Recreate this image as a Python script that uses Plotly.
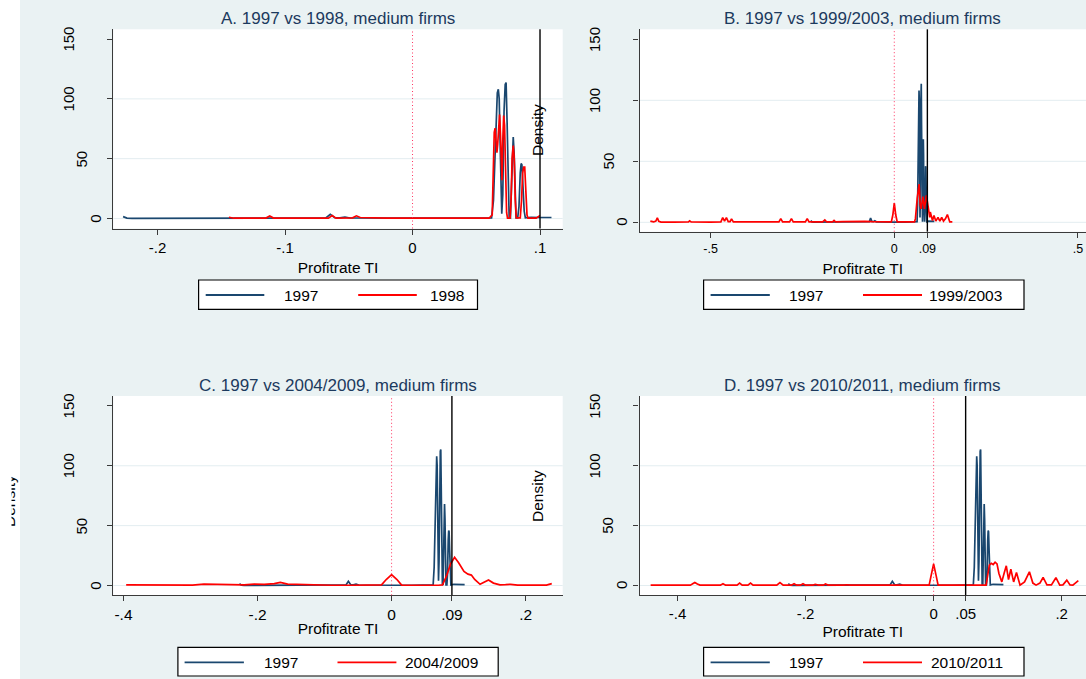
import plotly.graph_objects as go

W, H = 1086, 679

# ---------------- data ----------------
# Kernel density, 1997 (same in every panel)
x1997 = [-0.227, -0.224, -0.220, -0.200, -0.170, -0.140, -0.132, -0.130, -0.128, -0.100, -0.080,
         -0.068, -0.0645, -0.061, -0.057, -0.053, -0.049, -0.040, -0.020, 0.000, 0.030, 0.058,
         0.0620, 0.0635, 0.0645, 0.0655, 0.0665, 0.0673, 0.0680, 0.0690, 0.0700, 0.0708, 0.0718,
         0.0727, 0.0734, 0.0742, 0.0750, 0.0758, 0.0768, 0.0775, 0.0783, 0.0790, 0.0797, 0.0805,
         0.0812, 0.0825, 0.0835, 0.0845, 0.0852, 0.0858, 0.0866, 0.0876, 0.0885, 0.0930, 0.1000,
         0.1090]
y1997 = [1.5, 0.3, 0.1, 0.1, 0.1, 0.2, 0.3, 0.7, 0.2, 0.2, 0.3,
         0.5, 3.5, 0.6, 0.5, 1.2, 0.4, 0.3, 0.2, 0.2, 0.2, 0.2,
         0.5, 15, 45, 85, 105, 108, 100, 50, 4, 20, 90,
         112, 113.6, 80, 20, 1, 0.5, 20, 55, 68, 55, 15,
         0.5, 0.5, 10, 38, 46, 45, 30, 6, 0.5, 1.0, 0.8,
         0.8]

# 1998
x1998 = [-0.144, -0.140, -0.130, -0.115, -0.112, -0.109, -0.080, -0.066, -0.063, -0.060, -0.047,
         -0.044, -0.041, -0.035, -0.030, -0.020, 0.000, 0.060, 0.0625, 0.0634, 0.0641, 0.0648,
         0.0655, 0.0662, 0.0668, 0.0676, 0.0683, 0.0690, 0.0697, 0.0702, 0.0708, 0.0715, 0.0722,
         0.0730, 0.0738, 0.0745, 0.0765, 0.0773, 0.0781, 0.0790, 0.0798, 0.0806, 0.0814, 0.0845,
         0.0855, 0.0864, 0.0872, 0.0880, 0.0888, 0.0898, 0.0905, 0.0970, 0.0995, 0.1000]
y1998 = [1.0, 0.2, 0.2, 0.3, 2.0, 0.3, 0.2, 0.3, 2.5, 0.3, 0.5,
         2.2, 0.8, 0.5, 0.8, 0.3, 0.2, 0.2, 3, 40, 72, 75.6,
         68, 55, 62, 82, 87, 70, 35, 32, 65, 86, 78,
         40, 5, 0.3, 0.3, 15, 50, 61, 50, 15, 0.5, 0.5,
         15, 38, 43, 43, 25, 3, 0.3, 0.3, 2.2, 2.0]

# 1999/2003
x9903 = [-0.664, -0.655, -0.649, -0.645, -0.641, -0.635, -0.600, -0.560, -0.557, -0.553, -0.500,
         -0.472, -0.467, -0.462, -0.457, -0.452, -0.447, -0.443, -0.438, -0.400, -0.393, -0.385,
         -0.330, -0.314, -0.309, -0.304, -0.285, -0.280, -0.275, -0.242, -0.237, -0.232, -0.195,
         -0.189, -0.184, -0.168, -0.164, -0.160, -0.140, -0.120, -0.100, -0.080, -0.060, -0.030,
         -0.008, -0.004, 0.000, 0.004, 0.008, 0.055, 0.0575, 0.0625, 0.0675, 0.0705, 0.0730,
         0.0780, 0.0820, 0.0875, 0.0910, 0.0940, 0.0965, 0.0980, 0.1010, 0.1040, 0.1080, 0.1130,
         0.1190, 0.1240, 0.1290, 0.1340, 0.1395, 0.1445, 0.1510, 0.1580]
y9903 = [1.0, 0.3, 1.0, 3.6, 0.8, 0.2, 0.2, 0.3, 1.2, 0.3, 0.2,
         0.3, 3.8, 1.0, 3.8, 0.5, 0.5, 2.8, 0.3, 0.3, 0.6, 0.2,
         0.2, 0.3, 3.0, 0.3, 0.3, 3.0, 0.3, 0.3, 3.0, 0.3, 0.3,
         2.0, 0.3, 0.3, 1.5, 0.3, 0.5, 0.8, 0.5, 0.8, 0.5, 0.3,
         0.3, 6, 15.8, 6, 0.3, 0.3, 3, 20, 31.4, 14, 11,
         21, 11, 22, 15, 11, 4, 8.4, 5, 1.4, 5.6, 1.0,
         4.0, 1.0, 4.0, 1.0, 3.0, 6.4, 0.3, 0.3]

# 2004/2009
x0409 = [-0.396, -0.370, -0.340, -0.320, -0.297, -0.280, -0.260, -0.240, -0.220, -0.205, -0.190,
         -0.175, -0.166, -0.155, -0.140, -0.130, -0.120, -0.090, -0.060, -0.030, -0.015, -0.008,
         0.000, 0.008, 0.015, 0.070, 0.076, 0.082, 0.088, 0.094, 0.100, 0.108, 0.114,
         0.119, 0.124, 0.132, 0.138, 0.1446, 0.152, 0.1616, 0.170, 0.1776, 0.188, 0.199,
         0.215, 0.231, 0.239]
y0409 = [0.5, 0.3, 0.5, 0.2, 0.3, 1.2, 0.8, 1.0, 0.5, 1.2, 1.0,
         1.5, 2.5, 1.2, 1.0, 0.8, 0.3, 0.2, 0.2, 0.2, 0.5, 5,
         9, 5, 0.3, 0.2, 0.5, 8, 18, 23.6, 19, 11.7, 9.5,
         8.7, 5, 1.0, 3.0, 4.6, 2.0, 0.5, 0.7, 1.0, 0.3, 0.2,
         0.2, 0.3, 1.5]

# 2010/2011
x1011 = [-0.442, -0.380, -0.377, -0.373, -0.369, -0.365, -0.333, -0.329, -0.325, -0.307, -0.303,
         -0.299, -0.290, -0.286, -0.282, -0.245, -0.240, -0.235, -0.222, -0.218, -0.214, -0.208,
         -0.204, -0.200, -0.188, -0.185, -0.180, -0.172, -0.169, -0.165, -0.140, -0.136, -0.130,
         -0.100, -0.070, -0.030, -0.007, -0.004, 0.000, 0.004, 0.007, 0.082, 0.0845, 0.087,
         0.090, 0.093, 0.096, 0.099, 0.102, 0.1065, 0.110, 0.1135, 0.117, 0.1206, 0.125,
         0.1294, 0.135, 0.142, 0.1496, 0.155, 0.160, 0.166, 0.171, 0.177, 0.184, 0.191,
         0.197, 0.202, 0.208, 0.213, 0.2175, 0.222, 0.226]
y1011 = [0.3, 0.3, 1.2, 2.5, 1.2, 0.3, 0.3, 1.5, 0.3, 0.3, 2.0,
         0.3, 0.3, 2.0, 0.3, 0.3, 2.5, 0.3, 0.3, 1.5, 0.3, 0.3,
         1.5, 0.3, 0.3, 1.0, 0.3, 0.3, 1.2, 0.3, 0.3, 0.6, 0.3,
         0.3, 0.3, 0.3, 0.3, 8, 18, 8, 0.3, 0.3, 8, 17,
         18.5, 17.5, 19.5, 18, 10, 3, 10, 16.4, 5, 13.6, 3,
         10.8, 0.3, 3, 11.4, 2, 0.3, 2, 6.7, 0.5, 0.5, 6.5,
         0.3, 0.5, 4.5, 0.5, 0.3, 2, 4]

base_label = "1997"
comp_labels = ["1998", "1999/2003", "2004/2009", "2010/2011"]
comp_x = [x1998, x9903, x0409, x1011]
comp_y = [y1998, y9903, y0409, y1011]
panel_titles = ["A. 1997 vs 1998, medium firms", "B. 1997 vs 1999/2003, medium firms",
                "C. 1997 vs 2004/2009, medium firms", "D. 1997 vs 2010/2011, medium firms"]
ref_lines = [0.1, 0.09, 0.09, 0.05]
zero_line = 0
xtick_vals = [[-0.2, -0.1, 0, 0.1], [-0.5, 0, 0.09, 0.5],
              [-0.4, -0.2, 0, 0.09, 0.2], [-0.4, -0.2, 0, 0.05, 0.2]]
xtick_text = [["-.2", "-.1", "0", ".1"], ["-.5", "0", ".09", ".5"],
              ["-.4", "-.2", "0", ".09", ".2"], ["-.4", "-.2", "0", ".05", ".2"]]
ytick_vals = [0, 50, 100, 150]
ytick_text = ["0", "50", "100", "150"]
grid_vals = [0, 50, 100]
x_title = "Profitrate TI"
y_title = "Density"

# ---------------- styling / geometry (pixels) ----------------
NAVY = "#1A476F"
RED = "#FF0000"
BG = "#EAF2F3"
TITLE_C = "#1C3A5E"
FONT = "Liberation Sans, Arial, sans-serif"

panels = [
    dict(x0=113.3, x1=562.7, top=29.3, bottom=228.5, xr=[-0.2347, 0.1178], yr=[-8.4, 158.2],
         tf=15, ttl_y=18, xt_stand=7, legend=dict(box=(198.6, 477.5, 280, 309.3), l1=(205.7, 264.3),
         t1=282, l2=(358.2, 416.8), t2=428, yc=295)),
    dict(x0=639.5, x1=1086, top=29.3, bottom=231.7, xr=[-0.6935, 0.5218], yr=[-7.7, 158.2],
         tf=12.5, ttl_y=18, xt_stand=8, legend=dict(box=(703.6, 1024, 280, 309.3), l1=(710.6, 769.8),
         t1=787.2, l2=(863, 922), t2=926.5, yc=295)),
    dict(x0=113.3, x1=562.7, top=396, bottom=595.3, xr=[-0.4152, 0.2553], yr=[-8.2, 158.3],
         tf=15.5, ttl_y=385, xt_stand=1, legend=dict(box=(177.9, 498.2, 647.3, 676), l1=(184.6, 243.9),
         t1=261.8, l2=(337.5, 396.4), t2=402.9, yc=662.3)),
    dict(x0=639.5, x1=1086, top=396, bottom=595.3, xr=[-0.4594, 0.238], yr=[-8.2, 158.3],
         tf=15, ttl_y=385, xt_stand=4, legend=dict(box=(703.6, 1024, 647.3, 676), l1=(710.6, 769.8),
         t1=787.2, l2=(863, 922), t2=928.9, yc=662.3)),
]


def px(x):
    return x / W


def py(y):
    return 1 - y / H


fig = go.Figure()
shapes = []
annotations = []
layout = dict(
    width=W, height=H, margin=dict(l=0, r=0, t=0, b=0),
    paper_bgcolor=BG, plot_bgcolor="white", template="none",
    font=dict(family=FONT, color="black", size=15), showlegend=False,
)

# white strip outside the graph region (left)
shapes.append(dict(type="rect", xref="paper", yref="paper", x0=0, x1=px(20), y0=0, y1=1,
                   fillcolor="white", line=dict(width=0), layer="below"))

for i, p in enumerate(panels):
    n = i + 1
    xa = "x" if n == 1 else f"x{n}"
    ya = "y" if n == 1 else f"y{n}"
    xkey = "xaxis" if n == 1 else f"xaxis{n}"
    ykey = "yaxis" if n == 1 else f"yaxis{n}"

    fig.add_trace(go.Scatter(x=x1997, y=y1997, mode="lines", name=base_label,
                             line=dict(color=NAVY, width=1.7), xaxis=xa, yaxis=ya))
    fig.add_trace(go.Scatter(x=comp_x[i], y=comp_y[i], mode="lines", name=comp_labels[i],
                             line=dict(color=RED, width=1.7), xaxis=xa, yaxis=ya))

    layout[xkey] = dict(
        domain=[px(p["x0"]), px(p["x1"])], range=p["xr"], anchor=ya,
        tickmode="array", tickvals=xtick_vals[i], ticktext=xtick_text[i],
        ticks="outside", ticklen=5, tickwidth=1.2, tickcolor="#3a3a3a",
        showline=True, linecolor="#3a3a3a", linewidth=1.3, showgrid=False, zeroline=False,
        tickfont=dict(size=p["tf"], color="black", family=FONT),
        title=dict(text=x_title, font=dict(size=15.5, color="black", family=FONT), standoff=p["xt_stand"]),
    )
    layout[ykey] = dict(
        domain=[py(p["bottom"]), py(p["top"])], range=p["yr"], anchor=xa,
        tickmode="array", tickvals=ytick_vals, showticklabels=False,
        ticks="outside", ticklen=5, tickwidth=1.2, tickcolor="#3a3a3a",
        showline=True, linecolor="#3a3a3a", linewidth=1.3, showgrid=False, zeroline=False,
    )

    # horizontal grid lines
    for g in grid_vals:
        shapes.append(dict(type="line", xref=f"{xa} domain", yref=ya, x0=0, x1=1, y0=g, y1=g,
                           line=dict(color="#E3EDF0", width=1), layer="below"))
    # reference lines
    shapes.append(dict(type="line", xref=xa, yref=f"{ya} domain", x0=zero_line, x1=zero_line, y0=0, y1=1,
                       line=dict(color="rgba(255,30,80,0.9)", width=1, dash="1px,2.5px"), layer="above"))
    shapes.append(dict(type="line", xref=xa, yref=f"{ya} domain", x0=ref_lines[i], x1=ref_lines[i],
                       y0=0, y1=1, line=dict(color="black", width=1.4), layer="above"))

    # y tick labels (rotated, Stata-style alignment)
    for v, t in zip(ytick_vals, ytick_text):
        cx = p["x0"] - 18 - 13.4 * (len(t) - 1)
        annotations.append(dict(text=t, xref="paper", yref=ya, x=px(cx), y=v, showarrow=False,
                                textangle=-90, xanchor="center", yanchor="middle",
                                font=dict(size=15, color="black", family=FONT)))

    # panel title
    annotations.append(dict(text=panel_titles[i], xref="paper", yref="paper",
                            x=px((p["x0"] + min(p["x1"], p["x0"] + 449.4)) / 2), y=py(p["ttl_y"]),
                            showarrow=False, xanchor="center", yanchor="middle",
                            font=dict(size=17, color=TITLE_C, family=FONT)))

    # legend
    lg = p["legend"]
    bx0, bx1, by0, by1 = lg["box"]
    shapes.append(dict(type="rect", xref="paper", yref="paper", x0=px(bx0), x1=px(bx1),
                       y0=py(by1), y1=py(by0), fillcolor="white", line=dict(color="black", width=1.2),
                       layer="above"))
    for (l0, l1), col, tx, lab in [(lg["l1"], NAVY, lg["t1"], base_label),
                                   (lg["l2"], RED, lg["t2"], comp_labels[i])]:
        shapes.append(dict(type="line", xref="paper", yref="paper", x0=px(l0), x1=px(l1),
                           y0=py(lg["yc"]), y1=py(lg["yc"]), line=dict(color=col, width=1.8),
                           layer="above"))
        annotations.append(dict(text=lab, xref="paper", yref="paper", x=px(tx), y=py(lg["yc"]),
                                showarrow=False, xanchor="left", yanchor="middle",
                                font=dict(size=15.5, color="black", family=FONT)))

# y-axis titles of the right-hand panels (drawn by Stata over the left panels)
for yc in [130.5, 496.5]:
    annotations.append(dict(text=y_title, xref="paper", yref="paper", x=px(537.5), y=py(yc),
                            showarrow=False, textangle=-90, xanchor="center", yanchor="middle",
                            font=dict(size=15.5, color="black", family=FONT)))
# clipped y-axis title at far left (panel C)
annotations.append(dict(text=y_title, xref="paper", yref="paper", x=px(9), y=py(501),
                        showarrow=False, textangle=-90, xanchor="center", yanchor="middle",
                        font=dict(size=15.5, color="black", family=FONT)))
annotations.append(dict(text=" ", xref="paper", yref="paper", x=0, y=py(501), width=10, height=90,
                        showarrow=False, xanchor="left", yanchor="middle", bgcolor="white",
                        borderpad=0, font=dict(size=2)))

layout["shapes"] = shapes
layout["annotations"] = annotations
fig.update_layout(**layout)
fig.write_html("out.html")
